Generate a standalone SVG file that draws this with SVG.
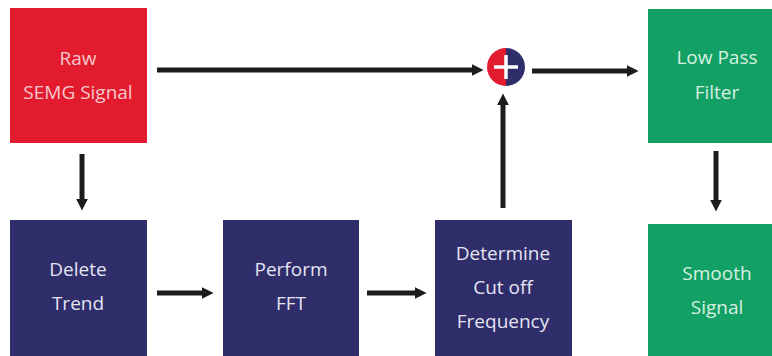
<svg xmlns="http://www.w3.org/2000/svg" width="772" height="356" viewBox="0 0 772 356">
  <style>
    .lbl { font-family: "Open Sans", "Noto Sans", sans-serif; font-size: 19px; text-anchor: middle; }
    .red { fill: #e31b2f; }
    .navy { fill: #2f2d6a; }
    .green { fill: #12a064; }
    .t-red { fill: #f6c8cc; }
    .t-navy { fill: #e4e4f2; }
    .t-green { fill: #d8f1e3; }
    .conn { stroke: #1c1c1c; stroke-width: 5; fill: none; marker-end: url(#head); }
  </style>
  <defs>
    <marker id="head" viewBox="0 0 10 10" refX="2" refY="5" markerWidth="2.4" markerHeight="2.4" orient="auto" markerUnits="strokeWidth">
      <path d="M0,0 L10,5 L0,10 Z" fill="#1c1c1c"/>
    </marker>
  </defs>
  <rect width="772" height="356" fill="#ffffff"/>

  <g id="raw">
    <rect class="red" x="10" y="8" width="137" height="135"/>
    <text class="lbl t-red" x="78" y="65">Raw</text>
    <text class="lbl t-red" x="78" y="99">SEMG Signal</text>
  </g>
  <g id="delete-trend">
    <rect class="navy" x="10" y="220" width="137" height="136"/>
    <text class="lbl t-navy" x="78" y="276">Delete</text>
    <text class="lbl t-navy" x="78" y="310">Trend</text>
  </g>
  <g id="perform-fft">
    <rect class="navy" x="223" y="220" width="136" height="136"/>
    <text class="lbl t-navy" x="291" y="276">Perform</text>
    <text class="lbl t-navy" x="291" y="310">FFT</text>
  </g>
  <g id="cutoff">
    <rect class="navy" x="435" y="220" width="137" height="136"/>
    <text class="lbl t-navy" x="503" y="260">Determine</text>
    <text class="lbl t-navy" x="503" y="294">Cut off</text>
    <text class="lbl t-navy" x="503" y="328">Frequency</text>
  </g>
  <g id="sum">
    <path class="red" d="M506,48 A19,19 0 0 0 506,86 Z"/>
    <path class="navy" d="M506,48 A19,19 0 0 1 506,86 Z"/>
    <path d="M506,55 V79 M494,67 H518" stroke="#ffffff" stroke-width="3.5"/>
  </g>
  <g id="low-pass">
    <rect class="green" x="648" y="9" width="124" height="134"/>
    <text class="lbl t-green" x="717" y="64">Low Pass</text>
    <text class="lbl t-green" x="717" y="99">Filter</text>
  </g>
  <g id="smooth">
    <rect class="green" x="648" y="224" width="124" height="132"/>
    <text class="lbl t-green" x="717" y="280">Smooth</text>
    <text class="lbl t-green" x="717" y="314">Signal</text>
  </g>

  <g id="connectors">
    <line class="conn" x1="157" y1="70" x2="474" y2="70"/>
    <line class="conn" x1="532" y1="71" x2="629" y2="71"/>
    <line class="conn" x1="82" y1="154" x2="82" y2="201"/>
    <line class="conn" x1="157" y1="293" x2="204" y2="293"/>
    <line class="conn" x1="367" y1="293" x2="417" y2="293"/>
    <line class="conn" x1="503" y1="208" x2="503" y2="103"/>
    <line class="conn" x1="716" y1="151" x2="716" y2="202"/>
  </g>
</svg>
